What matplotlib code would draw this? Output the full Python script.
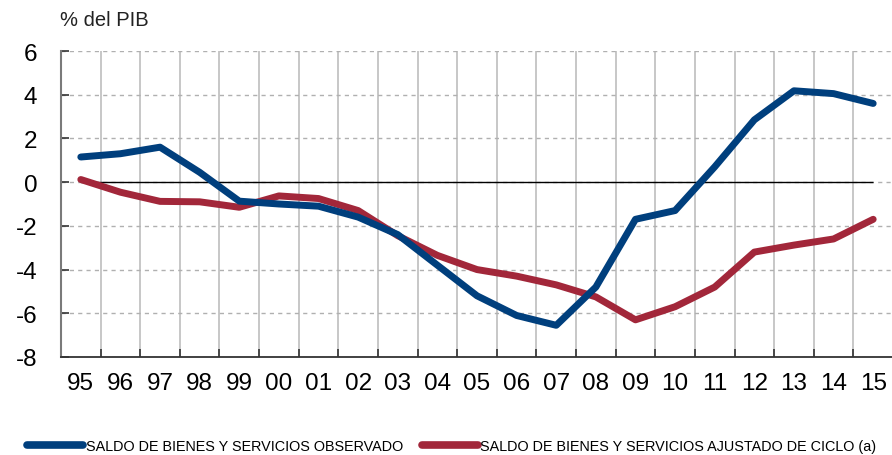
"""Saldo de bienes y servicios: observado vs ajustado de ciclo."""

import matplotlib

matplotlib.use("Agg")
import matplotlib.pyplot as plt
from matplotlib import font_manager
from matplotlib.ticker import MultipleLocator

plt.rcParams["font.family"] = ["Liberation Sans", "DejaVu Sans"]
plt.rcParams["axes.unicode_minus"] = False

years = ["95", "96", "97", "98", "99", "00", "01", "02", "03", "04", "05",
         "06", "07", "08", "09", "10", "11", "12", "13", "14", "15"]
observado = [1.15, 1.3, 1.6, 0.45, -0.87, -1.0, -1.1, -1.6, -2.4, -3.8, -5.2,
             -6.1, -6.55, -4.8, -1.7, -1.3, 0.7, 2.85, 4.18, 4.05, 3.6]
ajustado = [0.12, -0.46, -0.88, -0.9, -1.15, -0.63, -0.75, -1.3, -2.45, -3.35, -4.0,
            -4.3, -4.7, -5.25, -6.3, -5.7, -4.8, -3.2, -2.88, -2.6, -1.7]
labels = ["SALDO DE BIENES Y SERVICIOS OBSERVADO",
          "SALDO DE BIENES Y SERVICIOS AJUSTADO DE CICLO (a)"]

BLUE = "#003F7D"
RED = "#A2273A"

# legend text is a condensed face in the original; use a narrow font if there is one
try:
    font_manager.findfont(font_manager.FontProperties(family="Liberation Sans Narrow"),
                          fallback_to_default=False)
    legend_prop = {"family": "Liberation Sans Narrow", "size": 12}
    handle_len, col_space = 3.4, 1.2
except ValueError:
    legend_prop = {"family": "Liberation Sans", "size": 10.4}
    handle_len, col_space = 3.9, 1.3

fig = plt.figure(figsize=(8.92, 4.56), dpi=100)
ax = fig.add_axes([61 / 892, 1 - 358 / 456, 832 / 892, 306 / 456])

x = list(range(len(years)))
l1, = ax.plot(x, observado, color=BLUE, lw=5, solid_capstyle="round",
              solid_joinstyle="round", zorder=4)
l2, = ax.plot(x, ajustado, color=RED, lw=5, solid_capstyle="round",
              solid_joinstyle="round", zorder=3)
ax.hlines(0, x[0], x[-1], color="black", lw=1, zorder=2)

ax.set_xlim(-0.5, len(years) - 0.5)
ax.set_ylim(-8, 6)
ax.yaxis.set_major_locator(MultipleLocator(2))
ax.set_xticks(x)
ax.set_xticklabels(years)
ax.set_xticks([i + 0.5 for i in x[:-1]], minor=True)

ax.grid(axis="y", which="major", ls=(0, (3, 3)), color="#b0b0b0", lw=1)
ax.grid(axis="x", which="minor", ls="-", color="#bdbdbd", lw=1.2)
ax.set_axisbelow(True)

for side in ("top", "right"):
    ax.spines[side].set_visible(False)
ax.spines["left"].set_color("#7a7a7a")
ax.spines["left"].set_linewidth(1.5)
ax.spines["bottom"].set_color("#333333")
ax.spines["bottom"].set_linewidth(1.3)

ax.tick_params(axis="y", direction="in", length=6, width=1.2, color="#333333",
               labelsize=17.5, pad=17)
ax.tick_params(axis="x", which="major", length=0, labelsize=17.5, pad=11)
ax.tick_params(axis="x", which="minor", direction="in", length=6, width=1.2,
               color="#333333")

fig.text(60 / 892, 1 - 21 / 456, "% del PIB", fontsize=14.5, color="#222222",
         ha="left", va="center")

leg = fig.legend([l1, l2], labels, loc="center left",
                 bbox_to_anchor=(27 / 892, 1 - 447 / 456), ncol=2, frameon=False,
                 handlelength=handle_len, handletextpad=0.15, columnspacing=col_space,
                 borderpad=0, borderaxespad=0, prop=legend_prop)
for h in leg.legend_handles:
    h.set_linewidth(5.5)

fig.savefig("out.png", dpi=100)
